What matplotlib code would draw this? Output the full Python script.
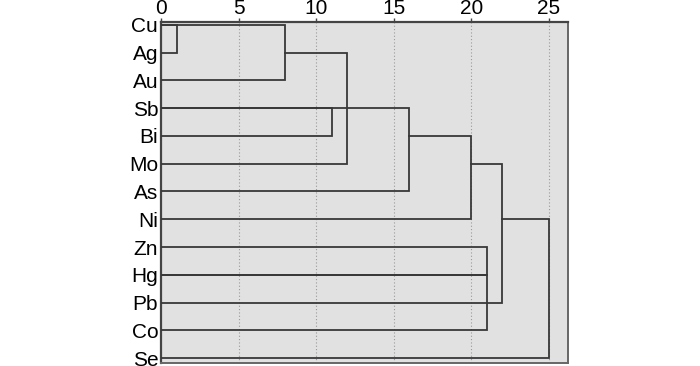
import matplotlib
matplotlib.use("Agg")
import matplotlib.pyplot as plt

plt.rcParams["font.family"] = ["Liberation Sans", "DejaVu Sans"]

# leaf order, top to bottom
leaves = ["Cu", "Ag", "Au", "Sb", "Bi", "Mo", "As", "Ni", "Zn", "Hg", "Pb", "Co", "Se"]

# each link: upper row, lower row, join distance, start of upper arm, start of lower arm
link_top = [0, 0, 1, 3, 3, 4, 5, 7, 8, 9]
link_bot = [1, 2, 5, 4, 6, 7, 10, 12, 9, 11]
link_dist = [1, 8, 12, 11, 16, 20, 22, 25, 21, 21]
arm_top_start = [0, 0, 8, 0, 0, 16, 20, 22, 0, 0]
arm_bot_start = [0, 0, 0, 0, 0, 0, 0, 0, 0, 0]

x_ticks = [0, 5, 10, 15, 20, 25]

fig = plt.figure(figsize=(7, 3.66), dpi=100)
ax = fig.add_axes([0.23, 0.0082, 0.5814, 0.9317])
ax.set_facecolor("#e1e1e1")

lc = "#383838"
for t, b, d, st, sb in zip(link_top, link_bot, link_dist, arm_top_start, arm_bot_start):
    ax.plot([st, d, d, sb], [t, t, b, b], color=lc, lw=1.3,
            solid_joinstyle="miter", zorder=3)

ax.set_xlim(0, 26.22)
ax.set_ylim(12.18, -0.108)
ax.set_xticks(x_ticks)
ax.set_yticks(range(len(leaves)))
ax.set_yticklabels(leaves)
ax.xaxis.tick_top()
ax.tick_params(axis="x", length=3, width=1, color="#444", labelsize=15, pad=0)
ax.tick_params(axis="y", length=0, labelsize=15, pad=2)

for x in x_ticks[1:]:
    ax.axvline(x, color="#999999", lw=0.8, ls=(0, (1, 2)), zorder=1)

for side in ["top", "left"]:
    ax.spines[side].set_color("#444444")
    ax.spines[side].set_linewidth(1.6)
for side in ["right", "bottom"]:
    ax.spines[side].set_color("#666666")
    ax.spines[side].set_linewidth(1.4)

fig.savefig("out.png", dpi=100)
